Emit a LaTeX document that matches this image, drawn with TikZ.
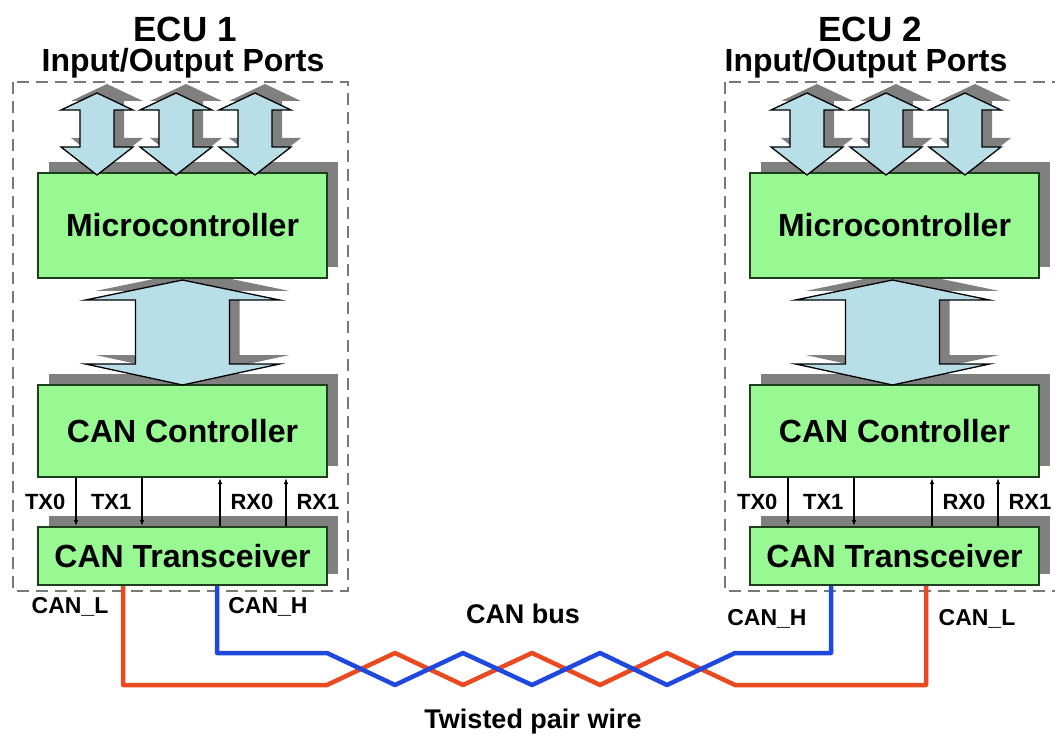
\documentclass[tikz,border=0pt]{standalone}
\usepackage{fontspec}
\setmainfont{Liberation Sans}
\usetikzlibrary{positioning}
\usetikzlibrary{shadows}
\usetikzlibrary{arrows.meta}

\definecolor{boxgreen}{RGB}{152,248,146}
\definecolor{boxline}{RGB}{28,64,28}
\definecolor{portblue}{RGB}{184,222,232}
\definecolor{shadowgray}{RGB}{128,128,128}
\definecolor{wirered}{RGB}{234,74,32}
\definecolor{wireblue}{RGB}{30,72,222}
\definecolor{framegray}{RGB}{120,120,120}

\newcommand{\fsize}[1]{\fontsize{#1}{#1}\selectfont\bfseries}

% centre x, top tip, bottom tip, head half width, shaft half width, top head, bottom head
\newcommand{\portarrow}[7]{%
  \path[arrowbody] (#1,#2) -- (#1+#4,#2+#6) -- (#1+#5,#2+#6) -- (#1+#5,#3-#7)
    -- (#1+#4,#3-#7) -- (#1,#3) -- (#1-#4,#3-#7) -- (#1-#5,#3-#7)
    -- (#1-#5,#2+#6) -- (#1-#4,#2+#6) -- cycle;}

\begin{document}
\begin{tikzpicture}[x=1pt, y=-1pt,
  block/.style={draw=boxline, line width=2pt, fill=boxgreen, minimum width=289pt,
    inner sep=0pt, font=\fsize{32},
    drop shadow={shadow xshift=11pt, shadow yshift=11pt, fill=shadowgray, opacity=1}},
  arrowbody/.style={draw=black, line width=1.3pt, fill=portblue, line join=miter,
    drop shadow={shadow xshift=10pt, shadow yshift=9pt, fill=shadowgray, opacity=1}},
  frame/.style={draw=framegray, line width=1.5pt, dash pattern=on 12pt off 7pt},
  sig/.style={line width=1.2pt, -{Latex[length=6pt,width=4.5pt]}},
  pin/.style={font=\fsize{22}, inner sep=2pt},
  wire/.style={line width=4.5pt, line join=round}]

  \useasboundingbox (0,0) rectangle (1055,735);
  \clip (0,0) rectangle (1055,735);

  % ECU frames
  \path[frame] (13,82) rectangle (348,591);
  \path[frame] (725,82) rectangle (1060,591);

  % Titles
  \node[anchor=base, font=\fsize{35}] (ecu1) at (185,42) {ECU 1};
  \node[anchor=base, font=\fsize{32}] (io1) at (183,72) {Input/Output Ports};
  \node[anchor=base, font=\fsize{35}] (ecu2) at (870,42) {ECU 2};
  \node[anchor=base, font=\fsize{32}] (io2) at (866,72) {Input/Output Ports};

  % CAN controllers and transceivers
  \node[block, minimum height=92pt] (cc1) at (182.5,431) {CAN Controller};
  \node[block, minimum height=58pt, below=48pt of cc1] (tr1) {CAN Transceiver};
  \node[block, minimum height=92pt, right=421pt of cc1] (cc2) {CAN Controller};
  \node[block, minimum height=58pt, below=48pt of cc2] (tr2) {CAN Transceiver};

  % Internal bus arrows
  \portarrow{182.5}{280}{385}{97}{47}{20}{21}
  \portarrow{892.5}{280}{385}{97}{47}{20}{21}

  % Microcontrollers
  \node[block, minimum height=105pt, above=105pt of cc1] (mc1) {Microcontroller};
  \node[block, minimum height=105pt, above=105pt of cc2] (mc2) {Microcontroller};

  % Port arrows
  \portarrow{97}{93}{175}{36}{17}{17}{28}
  \portarrow{176}{93}{175}{36}{17}{17}{28}
  \portarrow{255}{93}{175}{36}{17}{17}{28}
  \portarrow{807}{93}{175}{36}{17}{17}{28}
  \portarrow{886}{93}{175}{36}{17}{17}{28}
  \portarrow{965}{93}{175}{36}{17}{17}{28}

  % TX and RX lines
  \path[draw, sig] ([xshift=39pt]cc1.south west) to node[pin, left=8pt] (tx01) {TX0} ([xshift=39pt]tr1.north west);
  \path[draw, sig] ([xshift=105pt]cc1.south west) to node[pin, left=8pt] (tx11) {TX1} ([xshift=105pt]tr1.north west);
  \path[draw, sig] ([xshift=183pt]tr1.north west) to node[pin, right=8pt] (rx01) {RX0} ([xshift=183pt]cc1.south west);
  \path[draw, sig] ([xshift=249pt]tr1.north west) to node[pin, right=8pt] (rx11) {RX1} ([xshift=249pt]cc1.south west);
  \path[draw, sig] ([xshift=39pt]cc2.south west) to node[pin, left=8pt] (tx02) {TX0} ([xshift=39pt]tr2.north west);
  \path[draw, sig] ([xshift=105pt]cc2.south west) to node[pin, left=8pt] (tx12) {TX1} ([xshift=105pt]tr2.north west);
  \path[draw, sig] ([xshift=183pt]tr2.north west) to node[pin, right=8pt] (rx02) {RX0} ([xshift=183pt]cc2.south west);
  \path[draw, sig] ([xshift=249pt]tr2.north west) to node[pin, right=8pt] (rx12) {RX1} ([xshift=249pt]cc2.south west);

  % Twisted pair
  \path[draw, wire, wirered] ([xshift=86pt]tr1.south west) |- (327,685) -- (395,653) -- (463,685)
    -- (532,653) -- (600,685) -- (667,653) -- (735,685) -| ([xshift=177pt]tr2.south west);
  \path[draw, wire, wireblue] ([xshift=180pt]tr1.south west) |- (327,653) -- (395,685) -- (463,653)
    -- (532,685) -- (600,653) -- (667,685) -- (735,653) -| ([xshift=82pt]tr2.south west);

  % Wire labels
  \node[anchor=base, font=\fsize{23}] (canl1) at (70,613) {CAN\_L};
  \node[anchor=base, font=\fsize{23}] (canh1) at (268,613) {CAN\_H};
  \node[anchor=base, font=\fsize{23}] (canh2) at (767,625) {CAN\_H};
  \node[anchor=base, font=\fsize{23}] (canl2) at (977,625) {CAN\_L};
  \node[anchor=base, font=\fsize{27}] (bus) at (523,623) {CAN bus};
  \node[anchor=base, font=\fsize{27}] (pair) at (533,728) {Twisted pair wire};

\end{tikzpicture}
\end{document}
